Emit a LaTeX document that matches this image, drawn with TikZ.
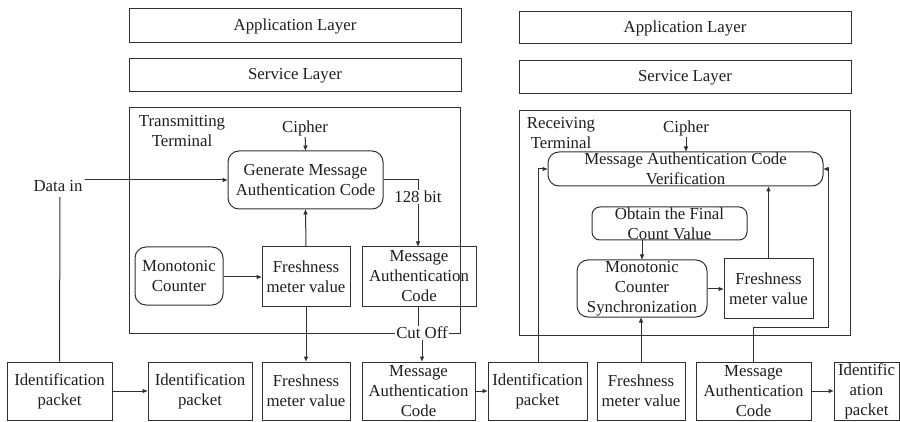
\documentclass[tikz,border=0pt]{standalone}
\usepackage{fontspec}
\setmainfont{LiberationSerif}[Extension=.ttf, UprightFont=*-Regular, BoldFont=*-Bold, ItalicFont=*-Italic]
\usetikzlibrary{arrows.meta}
\definecolor{lc}{HTML}{303030}
\definecolor{tc}{HTML}{1E1E1E}
\begin{document}
\begin{tikzpicture}[x=1pt,y=-1pt,
  every node/.style={text=tc, font=\rmfamily\fontsize{16.8}{20}\selectfont},
  box/.style={draw=lc, line width=1pt, inner sep=0pt, align=center},
  rbox/.style={box, rounded corners=11pt},
  sz/.style 2 args={minimum width=#1pt, minimum height=#2pt},
  lbl/.style={fill=white, inner sep=1pt},
  arr/.style={draw=lc, line width=1pt, -{Triangle[length=5pt,width=4pt]}},
  ln/.style={draw=lc, line width=1pt}]
\useasboundingbox (0,0) rectangle (900,422);

% layers
\node[box, sz={332}{34}] (app1) at (295,26) {Application Layer};
\node[box, sz={332}{33}] (svc1) at (295,75.5) {Service Layer};
\node[box, sz={332}{32}] (app2) at (685,28) {Application Layer};
\node[box, sz={332}{33}] (svc2) at (685,77.5) {Service Layer};

% transmitting terminal
\node[align=center, inner sep=0pt] (tlab) at (182,131) {Transmitting\\Terminal};
\node[inner sep=1pt] (cip1) at (305,128) {Cipher};
\node[rbox, sz={155}{58}] (gen) at (305.5,180) {Generate Message\\Authentication Code};
\node[inner sep=1pt] (din) at (58,186) {Data in};
\coordinate (dinr) at (85,180);
\node[rbox, sz={88}{58}] (mono1) at (179,276) {Monotonic\\Counter};
\node[box, sz={88}{59}] (fr1) at (306,276.5) {Freshness\\meter value};
\node[box, sz={114}{59}] (mac1) at (419,276.5) {Message\\Authentication\\Code};
\node[lbl] (bit) at (418,197) {128 bit};

% receiving terminal
\node[align=center, inner sep=0pt] (rlab) at (561,133) {Receiving\\Terminal};
\node[inner sep=1pt] (cip2) at (686,128) {Cipher};
\node[rbox, sz={275}{34}] (ver) at (685.5,169) {Message Authentication Code\\Verification};
\node[rbox, sz={155}{33}, rounded corners=8pt] (obt) at (669.5,223.5) {Obtain the Final\\Count Value};
\node[rbox, sz={130}{57}] (sync) at (642,288.5) {Monotonic\\Counter\\Synchronization};
\node[box, sz={89}{59}] (fr4) at (768.5,288.5) {Freshness\\meter value};

% packet row
\node[box, sz={105}{58}] (id1) at (59.5,391) {Identification\\packet};
\node[box, sz={104}{58}] (id2) at (200,391) {Identification\\packet};
\node[box, sz={88}{58}] (fr2) at (306,391) {Freshness\\meter value};
\node[box, sz={113}{58}] (mac2) at (418.5,391) {Message\\Authentication\\Code};
\node[box, sz={99}{58}] (id3) at (537.5,391) {Identification\\packet};
\node[box, sz={88}{58}] (fr3) at (641,391) {Freshness\\meter value};
\node[box, sz={115}{58}] (mac3) at (753.5,391) {Message\\Authentication\\Code};
\node[box, sz={65}{58}] (id4) at (866.5,391) {Identific\\ation\\packet};

% terminal frames
\draw[ln] (129,108) rectangle (460,333);
\draw[ln] (519,111) rectangle (850,335);
\node[lbl] (cut) at (422,333) {Cut Off};

% transmitting side connectors
\draw[arr] (cip1) -- (gen.north);
\draw[arr] (dinr) -- (dinr -| gen.west);
\draw[ln] (id1.north) -- (60,197);
\draw[arr] (mono1.east |- 0,277) -- (fr1.west |- 0,277);
\draw[arr] (fr1.north) -- (gen.south);
\draw[arr] (fr1.south) -- (fr2.north);
\draw[ln] (gen.east) -- (418,180) -- (bit.north);
\draw[arr] (bit.south) -- (bit.south |- mac1.north);
\draw[ln] (mac1.south -| 418,0) -- (cut.north -| 418,0);
\draw[arr] (cut.south) -- (cut.south |- mac2.north);
\draw[arr] (id1.east) -- (id2.west);
\draw[arr] (mac2.east) -- (id3.west);

% receiving side connectors
\draw[arr] (cip2) -- (cip2 |- ver.north);
\draw[arr] (538,362) -- (538,169) -- (ver.west);
\draw[arr] (fr3.north) -- (fr3.north |- sync.south);
\draw[arr] (obt.south -| 642,0) -- (sync.north);
\draw[arr] (sync.east |- 0,289) -- (fr4.west |- 0,289);
\draw[arr] (fr4.north) -- (fr4.north |- ver.south);
\draw[arr] (mac3.north) -- (753.5,327) -- (828,327) -- (828,169) -- (ver.east);
\draw[arr] (mac3.east) -- (id4.west);
\end{tikzpicture}
\end{document}
